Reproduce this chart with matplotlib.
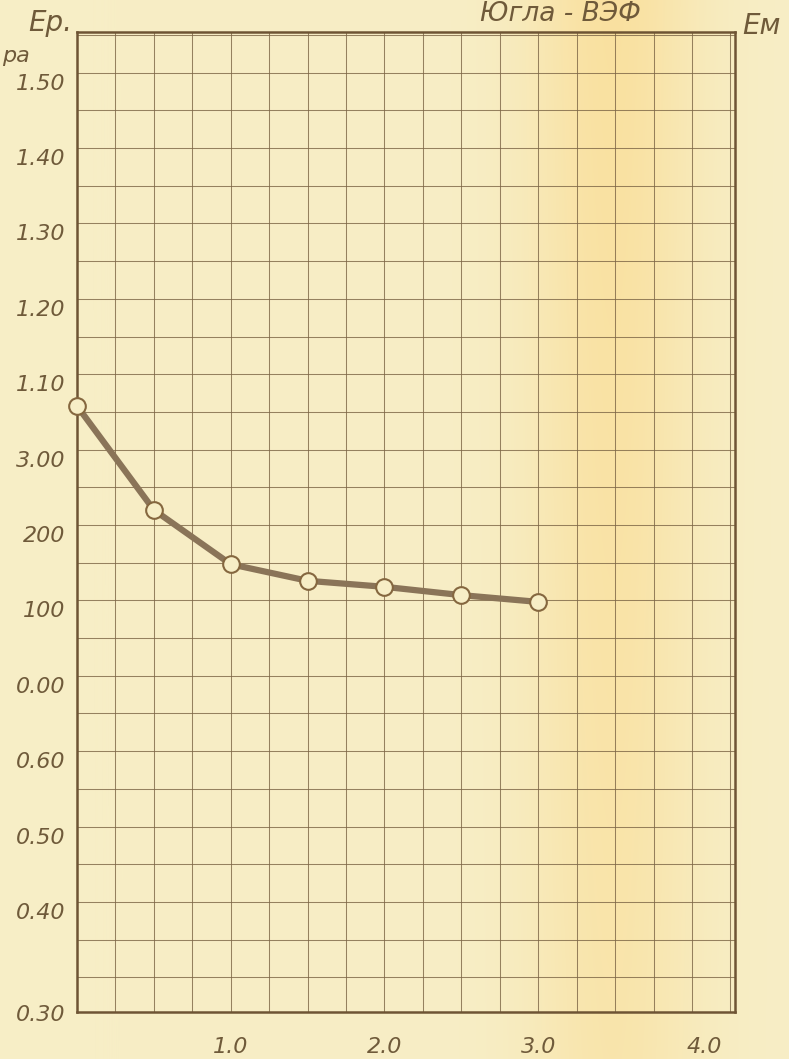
import numpy as np
import matplotlib.pyplot as plt

# curve (x in the sheet's units, y on the linear 0.1 scale)
x_vals = [0.0, 0.5, 1.0, 1.5, 2.0, 2.5, 3.0]
y_vals = [1.058, 0.920, 0.848, 0.826, 0.818, 0.807, 0.798]

# tick labels exactly as written on the sheet
y_tick_vals = [1.50, 1.40, 1.30, 1.20, 1.10, 1.00, 0.90, 0.80, 0.70, 0.60, 0.50, 0.40, 0.254]
y_tick_text = ["1.50", "1.40", "1.30", "1.20", "1.10", "3.00", "200", "100", "0.00",
               "0.60", "0.50", "0.40", "0.30"]
x_tick_vals = [1.0, 2.0, 3.0, 4.0]
x_tick_text = ["1.0", "2.0", "3.0", "4.0"]

title = "Югла - ВЭФ"

paper = np.array([247, 238, 198]) / 255
stain = np.array([250, 224, 158]) / 255
ink = "#6f5a3a"
grid_c = "#7d6646"

W, H = 789, 1059
fig = plt.figure(figsize=(W / 100, H / 100), dpi=100)

# paper with the soft yellow stain band
bg = fig.add_axes([0, 0, 1, 1])
xx = np.arange(W)[None, :]
yy = np.arange(H)[:, None]
w = np.exp(-((xx - 612) / 85.0) ** 2) * (0.95 - 0.3 * yy / H)
img = paper[None, None, :] * (1 - w[..., None]) + stain[None, None, :] * w[..., None]
bg.imshow(img, aspect="auto", extent=(0, W, H, 0), interpolation="bilinear")
bg.axis("off")

ax = fig.add_axes([77 / W, 1 - 1012 / H, (735 - 77) / W, (1012 - 32) / H])
ax.set_facecolor("none")
ax.set_xlim(0, 4.28)
ax.set_ylim(0.254, 1.554)

ax.set_xticks([])
ax.set_yticks([])
ax.set_xticks(np.arange(0.25, 4.28, 0.25), minor=True)
ax.set_yticks(np.arange(0.30, 1.56, 0.05), minor=True)
ax.tick_params(which="both", length=0)
ax.grid(which="minor", color=grid_c, linewidth=0.75, alpha=0.8)
for s in ax.spines.values():
    s.set_color("#6e5434")
    s.set_linewidth(1.8)

ax.plot(x_vals, y_vals, color="#8a7458", linewidth=4.5, solid_capstyle="round",
        marker="o", markersize=12, markerfacecolor=paper, markeredgecolor="#85673f",
        markeredgewidth=1.5, clip_on=False, zorder=5)

font = dict(family="DejaVu Sans", style="oblique", color=ink)

for v, t in zip(y_tick_vals, y_tick_text):
    dy = -3 if t == "0.30" else -11
    ax.annotate(t, xy=(0, v), xycoords=("axes fraction", "data"),
                xytext=(-12, dy), textcoords="offset pixels",
                ha="right", va="center", fontsize=16, **font)

for v, t in zip(x_tick_vals, x_tick_text):
    dx = 12 if t == "4.0" else 0
    ax.annotate(t, xy=(v, 0), xycoords=("data", "axes fraction"),
                xytext=(dx, -35), textcoords="offset pixels",
                ha="center", va="center", fontsize=16, **font)

fig.text(560 / W, 1 - 14 / H, title, ha="center", va="center", fontsize=19, **font)
fig.text(28 / W, 1 - 23 / H, "Ер.", ha="left", va="center", fontsize=20, **font)
fig.text(30 / W, 1 - 56 / H, "ра", ha="right", va="center", fontsize=16, **font)
fig.text(742 / W, 1 - 26 / H, "Ем", ha="left", va="center", fontsize=20, **font)

fig.savefig("out.png", dpi=100)
